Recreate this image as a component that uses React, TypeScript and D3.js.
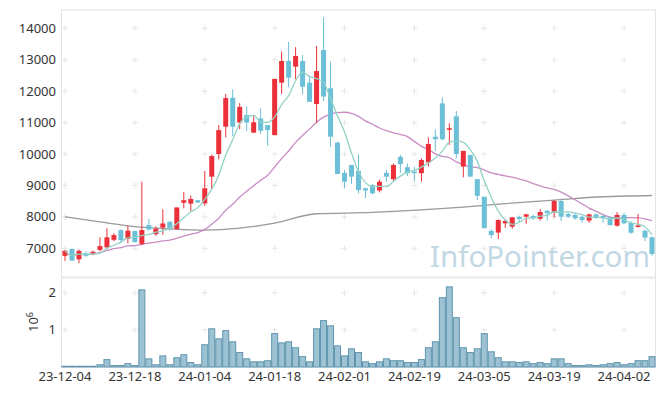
import React, { useEffect, useRef } from "react";
import * as d3 from "d3";

// trading days (YY-MM-DD)
const dates = [
  "23-12-04", "23-12-05", "23-12-06", "23-12-07", "23-12-08", "23-12-11", "23-12-12", "23-12-13", "23-12-14", "23-12-15",
  "23-12-18", "23-12-19", "23-12-20", "23-12-21", "23-12-22", "23-12-26", "23-12-27", "23-12-28",
  "24-01-02", "24-01-03", "24-01-04", "24-01-05", "24-01-08", "24-01-09", "24-01-10", "24-01-11", "24-01-12",
  "24-01-15", "24-01-16", "24-01-17", "24-01-18", "24-01-19", "24-01-22", "24-01-23", "24-01-24", "24-01-25",
  "24-01-26", "24-01-29", "24-01-30", "24-01-31",
  "24-02-01", "24-02-02", "24-02-05", "24-02-06", "24-02-07", "24-02-08", "24-02-13", "24-02-14", "24-02-15",
  "24-02-16", "24-02-19", "24-02-20", "24-02-21", "24-02-22", "24-02-23", "24-02-26", "24-02-27", "24-02-28", "24-02-29",
  "24-03-04", "24-03-05", "24-03-06", "24-03-07", "24-03-08", "24-03-11", "24-03-12", "24-03-13", "24-03-14",
  "24-03-15", "24-03-18", "24-03-19", "24-03-20", "24-03-21", "24-03-22", "24-03-25", "24-03-26", "24-03-27",
  "24-03-28", "24-03-29",
  "24-04-01", "24-04-02", "24-04-03", "24-04-04", "24-04-05", "24-04-08",
];

const open = [
  6760, 6980, 6650, 6840, 6840, 6950, 7030, 7270, 7580, 7300,
  7550, 7140, 7740, 7450, 7660, 7840, 7610, 8450, 8420, 8530,
  8430, 9280, 10000, 10870, 11790, 11000, 11240, 10680, 11130, 10920,
  10600, 12270, 12960, 12780, 12960, 12270, 11590, 13310, 12090, 10360,
  9400, 9650, 9460, 8910, 9010, 8840, 9400, 9200, 9910, 9580,
  9440, 9390, 9735, 10550, 11610, 10770, 11200, 9600, 9970, 9200,
  8640, 7550, 7500, 7795, 7690, 8005, 8005, 8030, 7940, 8190,
  8135, 8505, 8090, 8060, 8005, 7880, 8080, 8030, 7985, 7720,
  8060, 7815, 7680, 7560, 7350,
];
const high = [
  6950, 6990, 6960, 6900, 6920, 7350, 7640, 7480, 7600, 7730,
  7560, 9120, 7930, 7700, 8240, 7880, 8300, 8790, 8680, 8540,
  9460, 9980, 10920, 11910, 12060, 11620, 11520, 11200, 11450, 10920,
  12390, 13260, 13570, 13400, 13150, 12490, 13440, 14350, 12940, 10400,
  9490, 9650, 9990, 8930, 9050, 9180, 9490, 9700, 9970, 9700,
  9600, 9860, 10530, 10780, 11800, 10980, 11370, 10100, 9970, 9200,
  8640, 7610, 7920, 7930, 8000, 8040, 8100, 8070, 8250, 8220,
  8540, 8540, 8130, 8130, 8040, 8100, 8100, 8060, 8000, 8150,
  8130, 7860, 8090, 7600, 7380,
];
const low = [
  6600, 6600, 6530, 6720, 6780, 6900, 6990, 7220, 7160, 7160,
  7180, 7100, 7560, 7400, 7430, 7560, 7600, 8270, 8190, 8440,
  8350, 8900, 9830, 10530, 10570, 10790, 10730, 10680, 10640, 10260,
  10600, 11910, 12120, 12380, 11900, 11660, 11000, 11680, 10230, 9365,
  8910, 9050, 8750, 8600, 8720, 8780, 9120, 9120, 9400, 9300,
  9120, 9120, 9600, 10100, 10430, 10290, 9860, 9260, 9280, 8540,
  7640, 7320, 7300, 7650, 7620, 7830, 7780, 7900, 7880, 7880,
  7980, 7870, 7960, 7910, 7810, 7810, 7930, 7810, 7720, 7690,
  7760, 7460, 7660, 7230, 6760,
];
const close = [
  6920, 6610, 6920, 6760, 6890, 7070, 7350, 7420, 7260, 7560,
  7200, 7580, 7600, 7620, 7790, 7610, 8300, 8530, 8570, 8460,
  8910, 9935, 10760, 11780, 10870, 11500, 11000, 11010, 10740, 10760,
  12390, 12960, 12430, 13120, 12140, 11660, 12640, 11830, 10550, 9365,
  9120, 9280, 8850, 8840, 8750, 9120, 9280, 9650, 9680, 9390,
  9390, 9810, 10320, 10470, 10470, 10820, 10000, 10100, 9280, 8670,
  7640, 7420, 7900, 7870, 7985, 7930, 8080, 7960, 8155, 8115,
  8505, 8005, 8005, 7955, 7900, 8080, 7985, 7955, 7740, 8060,
  7795, 7495, 7730, 7340, 6820,
];
const volume = [
  0.02, 0.02, 0.02, 0.02, 0.02, 0.06, 0.2, 0.04, 0.04, 0.09,
  0.04, 2.08, 0.22, 0.06, 0.3, 0.06, 0.25, 0.33, 0.12, 0.06,
  0.6, 1.03, 0.76, 0.98, 0.68, 0.39, 0.22, 0.14, 0.14, 0.17,
  0.9, 0.65, 0.68, 0.52, 0.28, 0.14, 1.03, 1.25, 1.11, 0.57,
  0.3, 0.49, 0.39, 0.14, 0.09, 0.14, 0.22, 0.17, 0.17, 0.12,
  0.12, 0.2, 0.52, 0.68, 1.87, 2.16, 1.33, 0.52, 0.39, 0.49,
  0.9, 0.41, 0.25, 0.14, 0.14, 0.12, 0.14, 0.09, 0.12, 0.09,
  0.22, 0.22, 0.09, 0.04, 0.04, 0.06, 0.04, 0.06, 0.09, 0.12,
  0.06, 0.09, 0.17, 0.17, 0.28,
].map((v) => v * 1e6);

// long moving average (gray) at a few bars
const longMaIdx = [0, 5, 10, 15, 20, 25, 30, 36, 44, 51, 57, 63, 70, 77, 84];
const longMaVal = [8000, 7840, 7690, 7620, 7580, 7640, 7800, 8100, 8140, 8220, 8310, 8420, 8535, 8640, 8680];

const priceTicks = [7000, 8000, 9000, 10000, 11000, 12000, 13000, 14000];
const volTicks = [1e6, 2e6];
const xTickIdx = [0, 10, 20, 30, 40, 50, 60, 70, 80];

const W = 665;
const H = 396;
const UP = "#ec3039";
const DOWN = "#6bbfd6";
const FONT = "'Noto Sans', 'DejaVu Sans', sans-serif";

function movingAvg(vals: number[], n: number) {
  return vals.map((_, i) => {
    const s = vals.slice(Math.max(0, i - n + 1), i + 1);
    return d3.mean(s) as number;
  });
}

const App: React.FC = () => {
  const ref = useRef<SVGSVGElement | null>(null);

  useEffect(() => {
    if (!ref.current) return;
    const svg = d3.select(ref.current);
    svg.selectAll("*").remove();

    const left = 61.5;
    const right = 655.5;
    const pTop = 10;
    const pBot = 277;
    const vTop = 278;
    const vBot = 367;

    const idx = dates.map((_, i) => i);
    const x = d3.scaleBand<number>().domain(idx).range([left, right]).padding(0);
    const cx = (i: number) => (x(i) as number) + x.bandwidth() / 2;
    const y = d3.scaleLinear().domain([6087, 14582]).range([pBot, pTop]);
    const yv = d3.scaleLinear().domain([0, 2.4e6]).range([vBot, vTop]);

    // frames
    svg.append("rect")
      .attr("x", left).attr("y", pTop).attr("width", right - left).attr("height", pBot - pTop)
      .attr("fill", "none").attr("stroke", "#e4e4e4");
    svg.append("rect")
      .attr("x", left).attr("y", vTop).attr("width", right - left).attr("height", vBot - vTop)
      .attr("fill", "none").attr("stroke", "#e4e4e4");

    // grid crosses
    const crosses: [number, number][] = [];
    xTickIdx.forEach((i) => {
      priceTicks.forEach((v) => crosses.push([cx(i), y(v)]));
      volTicks.forEach((v) => crosses.push([cx(i), yv(v)]));
    });
    const cg = svg.append("g").attr("stroke", "#e6e6e6").attr("stroke-width", 1);
    crosses.forEach(([px, py]) => {
      cg.append("line").attr("x1", px - 3).attr("x2", px + 3).attr("y1", py).attr("y2", py);
      cg.append("line").attr("x1", px).attr("x2", px).attr("y1", py - 3).attr("y2", py + 3);
    });

    // watermark
    svg.append("text")
      .attr("x", 430).attr("y", 267)
      .attr("font-family", FONT).attr("font-size", 29.5)
      .attr("fill", "#c2d8e3")
      .text("InfoPointer.com");

    // volume bars
    svg.append("g")
      .selectAll("rect")
      .data(volume)
      .enter()
      .append("rect")
      .attr("x", (_, i) => (x(i) as number) + 0.5)
      .attr("y", (d) => yv(d))
      .attr("width", x.bandwidth() - 1)
      .attr("height", (d) => vBot - yv(d))
      .attr("fill", "#9dc2d3")
      .attr("stroke", "#5f95ae")
      .attr("stroke-width", 1);

    // moving averages
    const line = d3.line<number>().x((_, i) => cx(i)).y((d) => y(d)).curve(d3.curveMonotoneX);
    const ma20 = movingAvg(close, 20);
    const ma5 = movingAvg(close, 5);
    const longLine = d3.line<number>()
      .x((_, k) => cx(longMaIdx[k]))
      .y((d) => y(d))
      .curve(d3.curveMonotoneX);

    svg.append("path").attr("d", longLine(longMaVal) as string)
      .attr("fill", "none").attr("stroke", "#9a9a9a").attr("stroke-width", 1.3);
    svg.append("path").attr("d", line(ma20) as string)
      .attr("fill", "none").attr("stroke", "#c98cc3").attr("stroke-width", 1.3);

    // candles
    const cgr = svg.append("g");
    idx.forEach((i) => {
      const up = close[i] >= open[i];
      const col = up ? UP : DOWN;
      cgr.append("line")
        .attr("x1", cx(i)).attr("x2", cx(i))
        .attr("y1", y(high[i])).attr("y2", y(low[i]))
        .attr("stroke", col).attr("stroke-width", 1);
      const top = y(Math.max(open[i], close[i]));
      const bot = y(Math.min(open[i], close[i]));
      cgr.append("rect")
        .attr("x", cx(i) - 2.5).attr("width", 5)
        .attr("y", top).attr("height", Math.max(1.5, bot - top))
        .attr("fill", col);
    });

    svg.append("path").attr("d", line(ma5) as string)
      .attr("fill", "none").attr("stroke", "#93d2c6").attr("stroke-width", 1.3);

    // axes labels
    const lab = svg.append("g").attr("font-family", FONT).attr("font-size", 13).attr("fill", "#333");
    priceTicks.forEach((v) => {
      lab.append("text").attr("x", 56).attr("y", y(v)).attr("dy", "0.35em")
        .attr("text-anchor", "end").text(String(v));
    });
    volTicks.forEach((v) => {
      lab.append("text").attr("x", 56).attr("y", yv(v)).attr("dy", "0.35em")
        .attr("text-anchor", "end").text(String(v / 1e6));
    });
    xTickIdx.forEach((i) => {
      lab.append("text").attr("x", cx(i)).attr("y", 381)
        .attr("text-anchor", "middle").text(dates[i]);
    });
    const ylab = lab.append("text")
      .attr("transform", "translate(38,322) rotate(-90)")
      .attr("text-anchor", "middle");
    ylab.append("tspan").text("10");
    ylab.append("tspan").attr("dy", -5).attr("font-size", 9).text("6");
  }, []);

  return (
    <svg
      ref={ref}
      width={W}
      height={H}
      style={{ position: "absolute", left: 0, top: 0, background: "#fff" }}
    ></svg>
  );
};

export default App;
